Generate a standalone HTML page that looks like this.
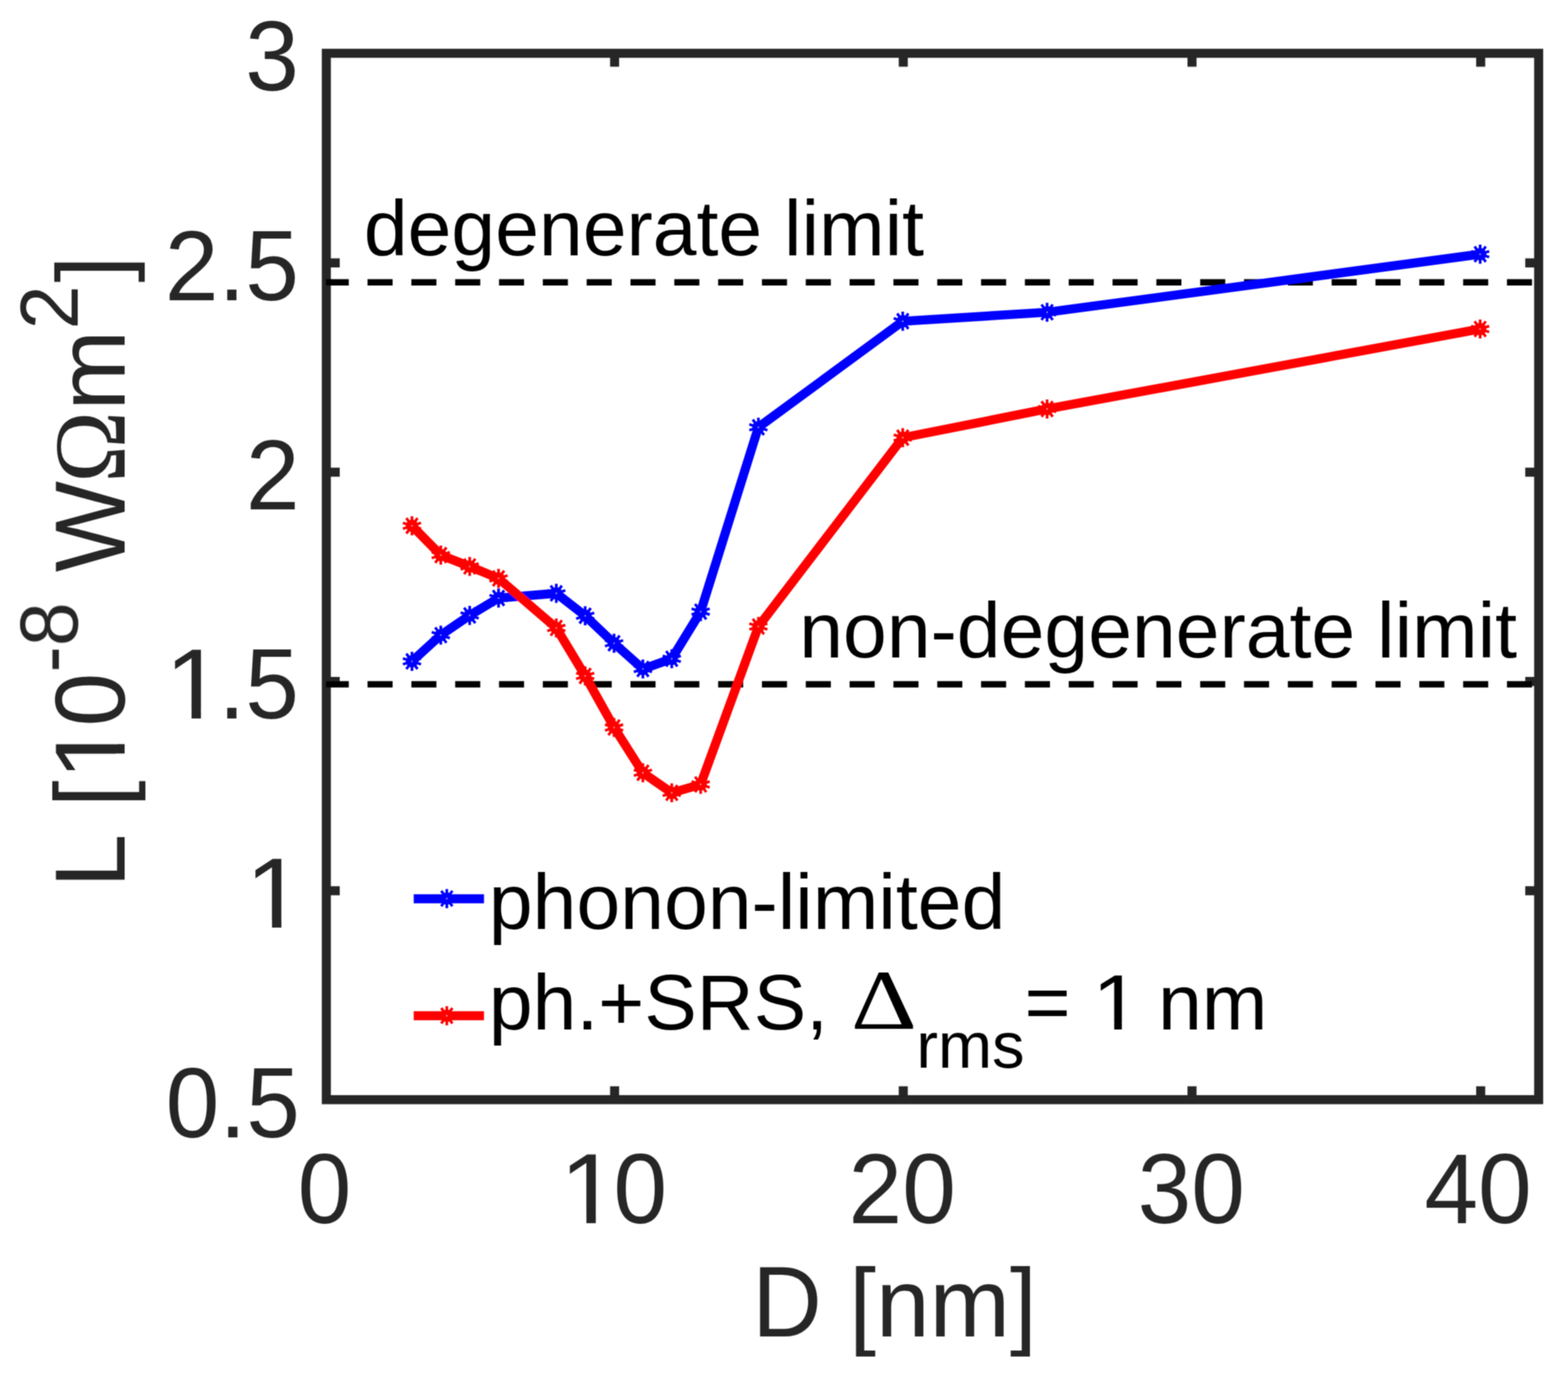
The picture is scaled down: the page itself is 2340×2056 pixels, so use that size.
<!DOCTYPE html>
<html><head><meta charset="utf-8"><title>L vs D</title>
<style>html,body{margin:0;padding:0;background:#fff;overflow:hidden;}svg{display:block;} text{font-kerning:none;}</style>
</head><body>
<svg width="2340" height="2056" viewBox="0 0 2340 2056"><defs><clipPath id="c1_144" clipPathUnits="userSpaceOnUse"><rect x="-500" y="-1000" width="2000" height="987.74"/><rect x="36.21" y="-1000" width="12.73" height="2000"/></clipPath><clipPath id="c1_117_5" clipPathUnits="userSpaceOnUse"><rect x="-500" y="-1000" width="2000" height="989.72"/><rect x="29.55" y="-1000" width="10.38" height="2000"/></clipPath><filter id="sm" filterUnits="userSpaceOnUse" x="0" y="0" width="2340" height="2056"><feConvolveMatrix order="3" kernelMatrix="1 2 1 2 4 2 1 2 1" divisor="16" edgeMode="none"/></filter></defs><rect width="2340" height="2056" fill="#fff"/><g filter="url(#sm)"><rect x="487.0" y="79.5" width="1809.1999999999998" height="1561.2" fill="none" stroke="#262626" stroke-width="13.5"/>
<path d="M917.2 1640.7V1620.7M917.2 79.5V99.5M1348.0 1640.7V1620.7M1348.0 79.5V99.5M1778.9 1640.7V1620.7M1778.9 79.5V99.5M2209.7 1640.7V1620.7M2209.7 79.5V99.5M487.0 1329.0H507.0M2296.2 1329.0H2276.2M487.0 1016.7H507.0M2296.2 1016.7H2276.2M487.0 704.5H507.0M2296.2 704.5H2276.2M487.0 392.2H507.0M2296.2 392.2H2276.2" stroke="#262626" stroke-width="13.5" fill="none"/>
<line x1="486.2" y1="421.3" x2="2290" y2="421.3" stroke="#000" stroke-width="9.5" stroke-dasharray="37.4 28" stroke-dashoffset="3.1"/>
<line x1="486.2" y1="1021.0" x2="2290" y2="1021.0" stroke="#000" stroke-width="9.5" stroke-dasharray="37.4 28" stroke-dashoffset="3.1"/>
<polyline points="614.8,986.8 657.8,947.6 700.9,918.2 744.0,892.3 830.2,885.2 873.3,918.8 916.4,959.8 959.4,998.1 1002.5,982.9 1045.6,912.6 1131.8,637.5 1347.2,479.3 1562.6,465.9 2208.9,379.3" fill="none" stroke="#0000ff" stroke-width="13.5" stroke-linejoin="miter" stroke-miterlimit="4"/><path d="M614.8 1001.0L614.8 972.6M606.4 998.3L623.1 975.3M601.3 991.2L628.3 982.4M601.3 982.4L628.3 991.2M606.4 975.3L623.1 998.3" stroke="#0000ff" stroke-width="4.0" fill="none"/><circle cx="614.8" cy="986.8" r="9.2" fill="#0000ff"/><circle cx="614.8" cy="986.8" r="0.9" fill="#a0a0ff"/><path d="M657.8 961.8L657.8 933.4M649.5 959.1L666.2 936.1M644.3 952.0L671.3 943.2M644.3 943.2L671.3 952.0M649.5 936.1L666.2 959.1" stroke="#0000ff" stroke-width="4.0" fill="none"/><circle cx="657.8" cy="947.6" r="9.2" fill="#0000ff"/><circle cx="657.8" cy="947.6" r="0.9" fill="#a0a0ff"/><path d="M700.9 932.4L700.9 904.0M692.6 929.7L709.3 906.7M687.4 922.6L714.4 913.8M687.4 913.8L714.4 922.6M692.6 906.7L709.3 929.7" stroke="#0000ff" stroke-width="4.0" fill="none"/><circle cx="700.9" cy="918.2" r="9.2" fill="#0000ff"/><circle cx="700.9" cy="918.2" r="0.9" fill="#a0a0ff"/><path d="M744.0 906.5L744.0 878.1M735.7 903.8L752.4 880.8M730.5 896.7L757.5 887.9M730.5 887.9L757.5 896.7M735.7 880.8L752.4 903.8" stroke="#0000ff" stroke-width="4.0" fill="none"/><circle cx="744.0" cy="892.3" r="9.2" fill="#0000ff"/><circle cx="744.0" cy="892.3" r="0.9" fill="#a0a0ff"/><path d="M830.2 899.4L830.2 871.0M821.8 896.7L838.5 873.7M816.7 889.6L843.7 880.8M816.7 880.8L843.7 889.6M821.8 873.7L838.5 896.7" stroke="#0000ff" stroke-width="4.0" fill="none"/><circle cx="830.2" cy="885.2" r="9.2" fill="#0000ff"/><circle cx="830.2" cy="885.2" r="0.9" fill="#a0a0ff"/><path d="M873.3 933.0L873.3 904.6M864.9 930.3L881.6 907.3M859.8 923.2L886.8 914.4M859.8 914.4L886.8 923.2M864.9 907.3L881.6 930.3" stroke="#0000ff" stroke-width="4.0" fill="none"/><circle cx="873.3" cy="918.8" r="9.2" fill="#0000ff"/><circle cx="873.3" cy="918.8" r="0.9" fill="#a0a0ff"/><path d="M916.4 974.0L916.4 945.6M908.0 971.3L924.7 948.3M902.9 964.2L929.9 955.4M902.9 955.4L929.9 964.2M908.0 948.3L924.7 971.3" stroke="#0000ff" stroke-width="4.0" fill="none"/><circle cx="916.4" cy="959.8" r="9.2" fill="#0000ff"/><circle cx="916.4" cy="959.8" r="0.9" fill="#a0a0ff"/><path d="M959.4 1012.3L959.4 983.9M951.1 1009.6L967.8 986.6M945.9 1002.5L973.0 993.7M945.9 993.7L973.0 1002.5M951.1 986.6L967.8 1009.6" stroke="#0000ff" stroke-width="4.0" fill="none"/><circle cx="959.4" cy="998.1" r="9.2" fill="#0000ff"/><circle cx="959.4" cy="998.1" r="0.9" fill="#a0a0ff"/><path d="M1002.5 997.1L1002.5 968.7M994.2 994.4L1010.9 971.4M989.0 987.3L1016.0 978.5M989.0 978.5L1016.0 987.3M994.2 971.4L1010.9 994.4" stroke="#0000ff" stroke-width="4.0" fill="none"/><circle cx="1002.5" cy="982.9" r="9.2" fill="#0000ff"/><circle cx="1002.5" cy="982.9" r="0.9" fill="#a0a0ff"/><path d="M1045.6 926.8L1045.6 898.4M1037.3 924.1L1054.0 901.1M1032.1 917.0L1059.1 908.2M1032.1 908.2L1059.1 917.0M1037.3 901.1L1054.0 924.1" stroke="#0000ff" stroke-width="4.0" fill="none"/><circle cx="1045.6" cy="912.6" r="9.2" fill="#0000ff"/><circle cx="1045.6" cy="912.6" r="0.9" fill="#a0a0ff"/><path d="M1131.8 651.7L1131.8 623.3M1123.4 649.0L1140.1 626.0M1118.3 641.9L1145.3 633.1M1118.3 633.1L1145.3 641.9M1123.4 626.0L1140.1 649.0" stroke="#0000ff" stroke-width="4.0" fill="none"/><circle cx="1131.8" cy="637.5" r="9.2" fill="#0000ff"/><circle cx="1131.8" cy="637.5" r="0.9" fill="#a0a0ff"/><path d="M1347.2 493.5L1347.2 465.1M1338.9 490.8L1355.6 467.8M1333.7 483.7L1360.7 474.9M1333.7 474.9L1360.7 483.7M1338.9 467.8L1355.6 490.8" stroke="#0000ff" stroke-width="4.0" fill="none"/><circle cx="1347.2" cy="479.3" r="9.2" fill="#0000ff"/><circle cx="1347.2" cy="479.3" r="0.9" fill="#a0a0ff"/><path d="M1562.6 480.1L1562.6 451.7M1554.3 477.4L1571.0 454.4M1549.1 470.3L1576.2 461.5M1549.1 461.5L1576.2 470.3M1554.3 454.4L1571.0 477.4" stroke="#0000ff" stroke-width="4.0" fill="none"/><circle cx="1562.6" cy="465.9" r="9.2" fill="#0000ff"/><circle cx="1562.6" cy="465.9" r="0.9" fill="#a0a0ff"/><path d="M2208.9 393.5L2208.9 365.1M2200.6 390.8L2217.3 367.8M2195.4 383.7L2222.4 374.9M2195.4 374.9L2222.4 383.7M2200.6 367.8L2217.3 390.8" stroke="#0000ff" stroke-width="4.0" fill="none"/><circle cx="2208.9" cy="379.3" r="9.2" fill="#0000ff"/><circle cx="2208.9" cy="379.3" r="0.9" fill="#a0a0ff"/>
<polyline points="614.8,784.5 657.8,828.2 700.9,845.1 744.0,863.0 830.2,936.9 873.3,1008.5 916.4,1085.4 959.4,1153.0 1002.5,1182.9 1045.6,1170.4 1131.8,934.8 1347.2,653.0 1562.6,610.2 2208.9,490.9" fill="none" stroke="#ff0000" stroke-width="13.5" stroke-linejoin="miter" stroke-miterlimit="4"/><path d="M614.8 798.7L614.8 770.3M606.4 796.0L623.1 773.0M601.3 788.9L628.3 780.1M601.3 780.1L628.3 788.9M606.4 773.0L623.1 796.0" stroke="#ff0000" stroke-width="4.0" fill="none"/><circle cx="614.8" cy="784.5" r="9.2" fill="#ff0000"/><circle cx="614.8" cy="784.5" r="0.9" fill="#ffa0a0"/><path d="M657.8 842.4L657.8 814.0M649.5 839.7L666.2 816.7M644.3 832.6L671.3 823.8M644.3 823.8L671.3 832.6M649.5 816.7L666.2 839.7" stroke="#ff0000" stroke-width="4.0" fill="none"/><circle cx="657.8" cy="828.2" r="9.2" fill="#ff0000"/><circle cx="657.8" cy="828.2" r="0.9" fill="#ffa0a0"/><path d="M700.9 859.3L700.9 830.9M692.6 856.6L709.3 833.6M687.4 849.5L714.4 840.7M687.4 840.7L714.4 849.5M692.6 833.6L709.3 856.6" stroke="#ff0000" stroke-width="4.0" fill="none"/><circle cx="700.9" cy="845.1" r="9.2" fill="#ff0000"/><circle cx="700.9" cy="845.1" r="0.9" fill="#ffa0a0"/><path d="M744.0 877.2L744.0 848.8M735.7 874.5L752.4 851.5M730.5 867.4L757.5 858.6M730.5 858.6L757.5 867.4M735.7 851.5L752.4 874.5" stroke="#ff0000" stroke-width="4.0" fill="none"/><circle cx="744.0" cy="863.0" r="9.2" fill="#ff0000"/><circle cx="744.0" cy="863.0" r="0.9" fill="#ffa0a0"/><path d="M830.2 951.1L830.2 922.7M821.8 948.4L838.5 925.4M816.7 941.3L843.7 932.5M816.7 932.5L843.7 941.3M821.8 925.4L838.5 948.4" stroke="#ff0000" stroke-width="4.0" fill="none"/><circle cx="830.2" cy="936.9" r="9.2" fill="#ff0000"/><circle cx="830.2" cy="936.9" r="0.9" fill="#ffa0a0"/><path d="M873.3 1022.7L873.3 994.3M864.9 1020.0L881.6 997.0M859.8 1012.9L886.8 1004.1M859.8 1004.1L886.8 1012.9M864.9 997.0L881.6 1020.0" stroke="#ff0000" stroke-width="4.0" fill="none"/><circle cx="873.3" cy="1008.5" r="9.2" fill="#ff0000"/><circle cx="873.3" cy="1008.5" r="0.9" fill="#ffa0a0"/><path d="M916.4 1099.6L916.4 1071.2M908.0 1096.9L924.7 1073.9M902.9 1089.8L929.9 1081.0M902.9 1081.0L929.9 1089.8M908.0 1073.9L924.7 1096.9" stroke="#ff0000" stroke-width="4.0" fill="none"/><circle cx="916.4" cy="1085.4" r="9.2" fill="#ff0000"/><circle cx="916.4" cy="1085.4" r="0.9" fill="#ffa0a0"/><path d="M959.4 1167.2L959.4 1138.8M951.1 1164.5L967.8 1141.5M945.9 1157.4L973.0 1148.6M945.9 1148.6L973.0 1157.4M951.1 1141.5L967.8 1164.5" stroke="#ff0000" stroke-width="4.0" fill="none"/><circle cx="959.4" cy="1153.0" r="9.2" fill="#ff0000"/><circle cx="959.4" cy="1153.0" r="0.9" fill="#ffa0a0"/><path d="M1002.5 1197.1L1002.5 1168.7M994.2 1194.4L1010.9 1171.4M989.0 1187.3L1016.0 1178.5M989.0 1178.5L1016.0 1187.3M994.2 1171.4L1010.9 1194.4" stroke="#ff0000" stroke-width="4.0" fill="none"/><circle cx="1002.5" cy="1182.9" r="9.2" fill="#ff0000"/><circle cx="1002.5" cy="1182.9" r="0.9" fill="#ffa0a0"/><path d="M1045.6 1184.6L1045.6 1156.2M1037.3 1181.9L1054.0 1158.9M1032.1 1174.8L1059.1 1166.0M1032.1 1166.0L1059.1 1174.8M1037.3 1158.9L1054.0 1181.9" stroke="#ff0000" stroke-width="4.0" fill="none"/><circle cx="1045.6" cy="1170.4" r="9.2" fill="#ff0000"/><circle cx="1045.6" cy="1170.4" r="0.9" fill="#ffa0a0"/><path d="M1131.8 949.0L1131.8 920.6M1123.4 946.3L1140.1 923.3M1118.3 939.2L1145.3 930.4M1118.3 930.4L1145.3 939.2M1123.4 923.3L1140.1 946.3" stroke="#ff0000" stroke-width="4.0" fill="none"/><circle cx="1131.8" cy="934.8" r="9.2" fill="#ff0000"/><circle cx="1131.8" cy="934.8" r="0.9" fill="#ffa0a0"/><path d="M1347.2 667.2L1347.2 638.8M1338.9 664.5L1355.6 641.5M1333.7 657.4L1360.7 648.6M1333.7 648.6L1360.7 657.4M1338.9 641.5L1355.6 664.5" stroke="#ff0000" stroke-width="4.0" fill="none"/><circle cx="1347.2" cy="653.0" r="9.2" fill="#ff0000"/><circle cx="1347.2" cy="653.0" r="0.9" fill="#ffa0a0"/><path d="M1562.6 624.4L1562.6 596.0M1554.3 621.7L1571.0 598.7M1549.1 614.6L1576.2 605.8M1549.1 605.8L1576.2 614.6M1554.3 598.7L1571.0 621.7" stroke="#ff0000" stroke-width="4.0" fill="none"/><circle cx="1562.6" cy="610.2" r="9.2" fill="#ff0000"/><circle cx="1562.6" cy="610.2" r="0.9" fill="#ffa0a0"/><path d="M2208.9 505.1L2208.9 476.7M2200.6 502.4L2217.3 479.4M2195.4 495.3L2222.4 486.5M2195.4 486.5L2222.4 495.3M2200.6 479.4L2217.3 502.4" stroke="#ff0000" stroke-width="4.0" fill="none"/><circle cx="2208.9" cy="490.9" r="9.2" fill="#ff0000"/><circle cx="2208.9" cy="490.9" r="0.9" fill="#ffa0a0"/>
<text transform="translate(446.20,135.40) scale(1.0,1.035)" text-anchor="end" font-family="Liberation Sans, Arial, Helvetica, sans-serif" font-size="144" fill="#262626">3</text>
<text transform="translate(446.20,447.64) scale(1.0,1.035)" text-anchor="end" font-family="Liberation Sans, Arial, Helvetica, sans-serif" font-size="144" fill="#262626">2.5</text>
<text transform="translate(447.20,759.88) scale(1.0,1.035)" text-anchor="end" font-family="Liberation Sans, Arial, Helvetica, sans-serif" font-size="144" fill="#262626">2</text>
<text transform="translate(447.50,1696.60) scale(1.0,1.035)" text-anchor="end" font-family="Liberation Sans, Arial, Helvetica, sans-serif" font-size="144" fill="#262626">0.5</text>
<text transform="translate(246.02,1072.12) scale(1.1,1.035)" clip-path="url(#c1_144)" font-family="Liberation Sans, Arial, Helvetica, sans-serif" font-size="144" fill="#262626">1</text>
<text transform="translate(326.11,1072.12) scale(1.0,1.035)" font-family="Liberation Sans, Arial, Helvetica, sans-serif" font-size="144" fill="#262626">.5</text>
<text transform="translate(366.11,1384.36) scale(1.1,1.035)" clip-path="url(#c1_144)" font-family="Liberation Sans, Arial, Helvetica, sans-serif" font-size="144" fill="#262626">1</text>
<text transform="translate(484.40,1825.10) scale(1.0,1.035)" text-anchor="middle" font-family="Liberation Sans, Arial, Helvetica, sans-serif" font-size="144" fill="#262626">0</text>
<text transform="translate(1346.40,1825.10) scale(1.0,1.035)" text-anchor="middle" font-family="Liberation Sans, Arial, Helvetica, sans-serif" font-size="144" fill="#262626">20</text>
<text transform="translate(1777.80,1825.10) scale(1.0,1.035)" text-anchor="middle" font-family="Liberation Sans, Arial, Helvetica, sans-serif" font-size="144" fill="#262626">30</text>
<text transform="translate(2205.80,1825.10) scale(1.0,1.035)" text-anchor="middle" font-family="Liberation Sans, Arial, Helvetica, sans-serif" font-size="144" fill="#262626">40</text>
<text transform="translate(835.31,1825.10) scale(1.1,1.035)" clip-path="url(#c1_144)" font-family="Liberation Sans, Arial, Helvetica, sans-serif" font-size="144" fill="#262626">1</text>
<text transform="translate(915.40,1825.10) scale(1.0,1.035)" font-family="Liberation Sans, Arial, Helvetica, sans-serif" font-size="144" fill="#262626">0</text>
<text transform="translate(1122.50,1993.60) scale(1.0,1.04)" font-family="Liberation Sans, Arial, Helvetica, sans-serif" font-size="144" fill="#262626">D</text>
<text transform="translate(1267.20,1993.60)" font-family="Liberation Sans, Arial, Helvetica, sans-serif" font-size="144" fill="#262626">[nm]</text>
<text transform="translate(185.70,1324.30) rotate(-90) scale(1.0,1.035)" font-family="Liberation Sans, Arial, Helvetica, sans-serif" font-size="144" fill="#262626">L [</text>
<text transform="translate(185.70,1164.20) rotate(-90) scale(1.1,1.035)" clip-path="url(#c1_144)" font-family="Liberation Sans, Arial, Helvetica, sans-serif" font-size="144" fill="#262626">1</text>
<text transform="translate(185.70,1084.10) rotate(-90) scale(1.0,1.035)" font-family="Liberation Sans, Arial, Helvetica, sans-serif" font-size="144" fill="#262626">0</text>
<text transform="translate(115.70,1003.40) rotate(-90) scale(1.0,1.035)" font-family="Liberation Sans, Arial, Helvetica, sans-serif" font-size="118" fill="#262626">-8</text>
<text transform="translate(185.70,853.80) rotate(-90) scale(1.0,1.035)" font-family="Liberation Sans, Arial, Helvetica, sans-serif" font-size="144" fill="#262626">W</text>
<text transform="translate(185.70,720.30) rotate(-90) scale(1.0,1.06)" font-family="Liberation Serif, Times New Roman, serif" font-size="144" fill="#262626">&#937;</text>
<text transform="translate(185.70,612.50) rotate(-90)" font-family="Liberation Sans, Arial, Helvetica, sans-serif" font-size="144" fill="#262626">m</text>
<text transform="translate(115.70,491.50) rotate(-90) scale(1.0,1.035)" font-family="Liberation Sans, Arial, Helvetica, sans-serif" font-size="118" fill="#262626">2</text>
<text transform="translate(185.70,421.60) rotate(-90)" font-family="Liberation Sans, Arial, Helvetica, sans-serif" font-size="144" fill="#262626">]</text>
<text transform="translate(542.90,380.70)" font-family="Liberation Sans, Arial, Helvetica, sans-serif" font-size="117.5" fill="#000">degenerate limit</text>
<text transform="translate(1192.70,981.20)" font-family="Liberation Sans, Arial, Helvetica, sans-serif" font-size="117.5" fill="#000">non-degenerate limit</text>
<line x1="617.4" y1="1341" x2="722.3" y2="1341" stroke="#0000ff" stroke-width="13.5"/><path d="M666.8 1354.9L666.8 1326.5M658.5 1352.2L675.1 1329.2M653.3 1345.1L680.3 1336.3M653.3 1336.3L680.3 1345.1M658.5 1329.2L675.1 1352.2" stroke="#0000ff" stroke-width="4.0" fill="none"/><circle cx="666.8" cy="1340.7" r="9.2" fill="#0000ff"/><circle cx="666.8" cy="1340.7" r="0.9" fill="#a0a0ff"/>
<line x1="617.4" y1="1515.5" x2="722.3" y2="1515.5" stroke="#ff0000" stroke-width="13.5"/><path d="M666.8 1529.7L666.8 1501.3M658.5 1527.0L675.1 1504.0M653.3 1519.9L680.3 1511.1M653.3 1511.1L680.3 1519.9M658.5 1504.0L675.1 1527.0" stroke="#ff0000" stroke-width="4.0" fill="none"/><circle cx="666.8" cy="1515.5" r="9.2" fill="#ff0000"/><circle cx="666.8" cy="1515.5" r="0.9" fill="#ffa0a0"/>
<text transform="translate(729.50,1386.10)" font-family="Liberation Sans, Arial, Helvetica, sans-serif" font-size="117.5" fill="#000">phonon-limited</text>
<text transform="translate(729.50,1536.20)" font-family="Liberation Sans, Arial, Helvetica, sans-serif" font-size="117.5" fill="#000">ph.+SRS,</text>
<text transform="translate(1270.08,1535.40) scale(1.295,1.078)" font-family="Liberation Serif, Times New Roman, serif" font-size="118" fill="#000">&#916;</text>
<text transform="translate(1367.40,1592.60)" font-family="Liberation Sans, Arial, Helvetica, sans-serif" font-size="97" fill="#000">rms</text>
<text transform="translate(1529.00,1536.20)" font-family="Liberation Sans, Arial, Helvetica, sans-serif" font-size="117.5" fill="#000">=</text>
<text transform="translate(1630.26,1536.20) scale(1.1,1.0)" clip-path="url(#c1_117_5)" font-family="Liberation Sans, Arial, Helvetica, sans-serif" font-size="117.5" fill="#000">1</text>
<text transform="translate(1728.26,1536.20)" font-family="Liberation Sans, Arial, Helvetica, sans-serif" font-size="117.5" fill="#000">nm</text></g></svg>
</body></html>
